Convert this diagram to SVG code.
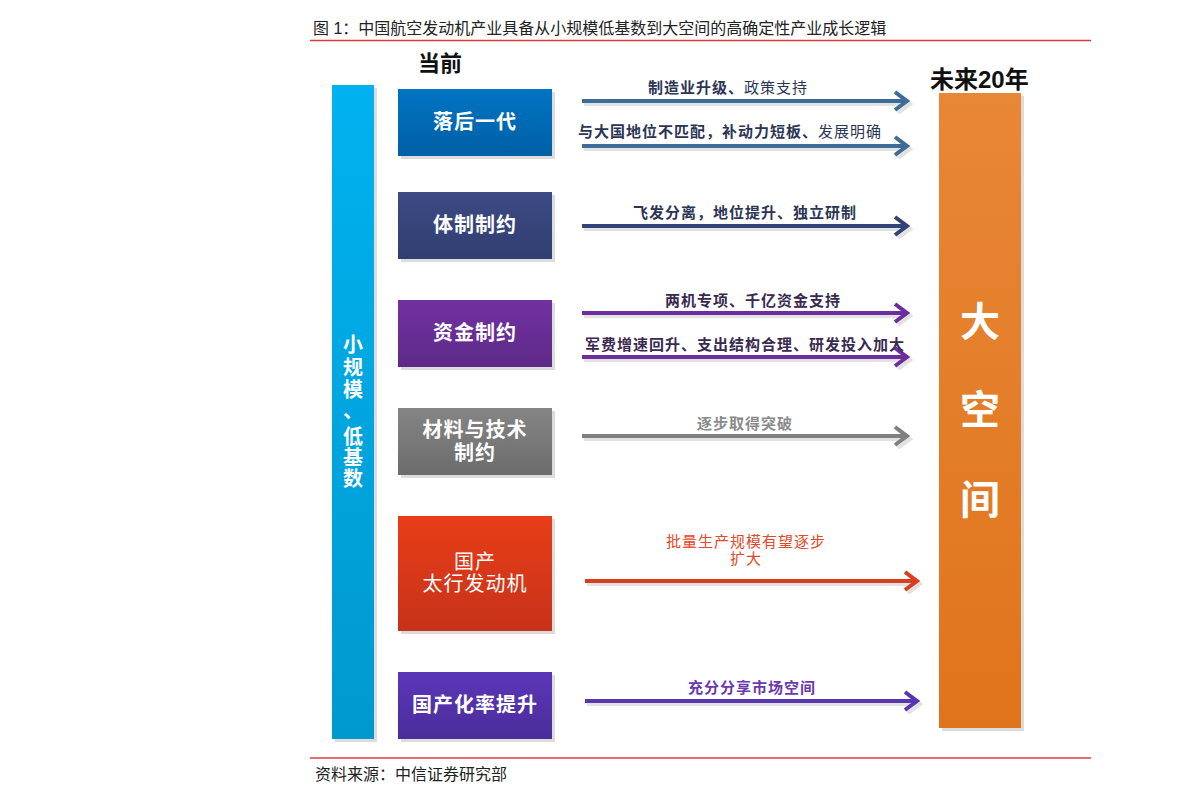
<svg xmlns="http://www.w3.org/2000/svg" width="1191" height="803" viewBox="0 0 1191 803">
<style>
text{font-family:"Liberation Sans","Noto Sans CJK SC",sans-serif}
.cap{font-size:16px;fill:#222}
.hd{font-size:22px;font-weight:bold;fill:#111}
.nt{font-size:20px;font-weight:bold;fill:#fff;text-anchor:middle;letter-spacing:1px}
.ntn{font-size:20px;fill:#fff;text-anchor:middle;letter-spacing:1px}
.lb{font-size:15px;font-weight:bold;text-anchor:middle;letter-spacing:1px}
.sh{fill:#dcdcdc}
.ar{fill:none;stroke-width:4;stroke-linecap:butt;stroke-linejoin:miter}
.ash{fill:none;stroke:#e2e2e2;stroke-width:4}
</style>
<defs>
<linearGradient id="gBar" x1="0" y1="0" x2="0" y2="1"><stop offset="0" stop-color="#00B2F0"/><stop offset="1" stop-color="#0099CE"/></linearGradient>
<linearGradient id="g1" x1="0" y1="0" x2="0" y2="1"><stop offset="0" stop-color="#0074C2"/><stop offset="1" stop-color="#0060A6"/></linearGradient>
<linearGradient id="g2" x1="0" y1="0" x2="0" y2="1"><stop offset="0" stop-color="#3D4A85"/><stop offset="1" stop-color="#303F70"/></linearGradient>
<linearGradient id="g3" x1="0" y1="0" x2="0" y2="1"><stop offset="0" stop-color="#7131A1"/><stop offset="1" stop-color="#5E2A88"/></linearGradient>
<linearGradient id="g4" x1="0" y1="0" x2="0" y2="1"><stop offset="0" stop-color="#858585"/><stop offset="1" stop-color="#6C6C6C"/></linearGradient>
<linearGradient id="g5" x1="0" y1="0" x2="0" y2="1"><stop offset="0" stop-color="#E83E18"/><stop offset="1" stop-color="#C7321A"/></linearGradient>
<linearGradient id="g6" x1="0" y1="0" x2="0" y2="1"><stop offset="0" stop-color="#5C36B8"/><stop offset="1" stop-color="#4A2D9A"/></linearGradient>
<linearGradient id="gOr" x1="0" y1="0" x2="0" y2="1"><stop offset="0" stop-color="#E88736"/><stop offset="1" stop-color="#E0741C"/></linearGradient>
</defs>

<text class="cap" x="313" y="34">图 1：中国航空发动机产业具备从小规模低基数到大空间的高确定性产业成长逻辑</text>
<line x1="310" y1="40.5" x2="1091" y2="40.5" stroke="#E03A3A" stroke-width="1.5"/>
<text class="hd" x="418" y="71">当前</text>
<text class="hd" x="930" y="88" style="font-size:24px">未来20年</text>

<g id="leftbar">
<rect class="sh" x="335" y="88" width="42" height="654"/>
<rect x="332" y="85" width="42" height="654" fill="url(#gBar)"/>
<text font-size="20" font-weight="bold" fill="#fff" text-anchor="middle">
<tspan x="353" y="352">小</tspan><tspan x="353" y="375">规</tspan><tspan x="353" y="397">模</tspan><tspan x="353" y="418">、</tspan><tspan x="353" y="444">低</tspan><tspan x="353" y="465">基</tspan><tspan x="353" y="486">数</tspan>
</text>
</g>

<g id="n1">
<rect class="sh" x="401" y="92" width="154" height="67"/>
<rect x="398" y="89" width="154" height="67" fill="url(#g1)"/>
<text class="nt" x="475" y="129">落后一代</text>
</g>
<g id="n2">
<rect class="sh" x="401" y="195" width="154" height="67"/>
<rect x="398" y="192" width="154" height="67" fill="url(#g2)"/>
<text class="nt" x="475" y="232">体制制约</text>
</g>
<g id="n3">
<rect class="sh" x="401" y="303" width="154" height="67"/>
<rect x="398" y="300" width="154" height="67" fill="url(#g3)"/>
<text class="nt" x="475" y="340">资金制约</text>
</g>
<g id="n4">
<rect class="sh" x="401" y="411" width="154" height="67"/>
<rect x="398" y="408" width="154" height="67" fill="url(#g4)"/>
<text class="nt" x="475" y="437">材料与技术</text>
<text class="nt" x="475" y="460">制约</text>
</g>
<g id="n5">
<rect class="sh" x="401" y="519" width="154" height="115"/>
<rect x="398" y="516" width="154" height="115" fill="url(#g5)"/>
<text class="ntn" x="475" y="569">国产</text>
<text class="ntn" x="475" y="591">太行发动机</text>
</g>
<g id="n6">
<rect class="sh" x="401" y="675" width="154" height="67"/>
<rect x="398" y="672" width="154" height="67" fill="url(#g6)"/>
<text class="nt" x="475" y="712">国产化率提升</text>
</g>

<g id="rightbar">
<rect class="sh" x="942" y="96" width="82" height="635"/>
<rect x="939" y="93" width="82" height="635" fill="url(#gOr)"/>
<text font-size="40" font-weight="bold" fill="#fff" text-anchor="middle">
<tspan x="980" y="336">大</tspan><tspan x="980" y="424">空</tspan><tspan x="980" y="514">间</tspan>
</text>
</g>

<g id="connectors">
<path class="ash" d="M584 104H908M898 95L910 104L898 113"/>
<path class="ar" stroke="#3E6C98" d="M582 101H906M895 92L907 101L895 110"/>
<path class="ash" d="M584 149H908M898 140L910 149L898 158"/>
<path class="ar" stroke="#3E6C98" d="M582 146H906M895 137L907 146L895 155"/>
<path class="ash" d="M584 229H908M898 220L910 229L898 238"/>
<path class="ar" stroke="#34427A" d="M582 226H906M895 217L907 226L895 235"/>
<path class="ash" d="M584 316H908M898 307L910 316L898 325"/>
<path class="ar" stroke="#6B2E9C" d="M582 313H906M895 304L907 313L895 322"/>
<path class="ash" d="M584 360H908M898 351L910 360L898 369"/>
<path class="ar" stroke="#6B2E9C" d="M582 357H906M895 348L907 357L895 366"/>
<path class="ash" d="M584 439H908M898 430L910 439L898 448"/>
<path class="ar" stroke="#7F7F7F" d="M582 436H906M895 427L907 436L895 445"/>
<path class="ash" d="M587 584H918M908 575L920 584L908 593"/>
<path class="ar" stroke="#DA3E1C" d="M585 581H916M905 572L917 581L905 590"/>
<path class="ash" d="M587 704H918M908 695L920 704L908 713"/>
<path class="ar" stroke="#5A35B2" d="M585 701H916M905 692L917 701L905 710"/>

<text class="lb" x="728" y="93" fill="#2B3556">制造业升级、<tspan style="font-weight:normal">政策支持</tspan></text>
<text class="lb" x="730" y="137" fill="#2B3556">与大国地位不匹配，补动力短板、<tspan style="font-weight:normal">发展明确</tspan></text>
<text class="lb" x="745" y="218" fill="#2B3556">飞发分离，地位提升、独立研制</text>
<text class="lb" x="753" y="306" fill="#3A2A50">两机专项、千亿资金支持</text>
<text class="lb" x="745" y="350" fill="#3A2A50">军费增速回升、支出结构合理、研发投入加大</text>
<text class="lb" x="745" y="429" fill="#8A8A8A">逐步取得突破</text>
<text class="lb" x="746" y="547" fill="#E2472A" style="font-weight:normal">批量生产规模有望逐步</text>
<text class="lb" x="746" y="564" fill="#E2472A" style="font-weight:normal">扩大</text>
<text class="lb" x="752" y="693" fill="#6A3AAE">充分分享市场空间</text>
</g>

<line x1="310" y1="758" x2="1091" y2="758" stroke="#E03A3A" stroke-width="1.5"/>
<text class="cap" x="315" y="780">资料来源：中信证券研究部</text>
</svg>
